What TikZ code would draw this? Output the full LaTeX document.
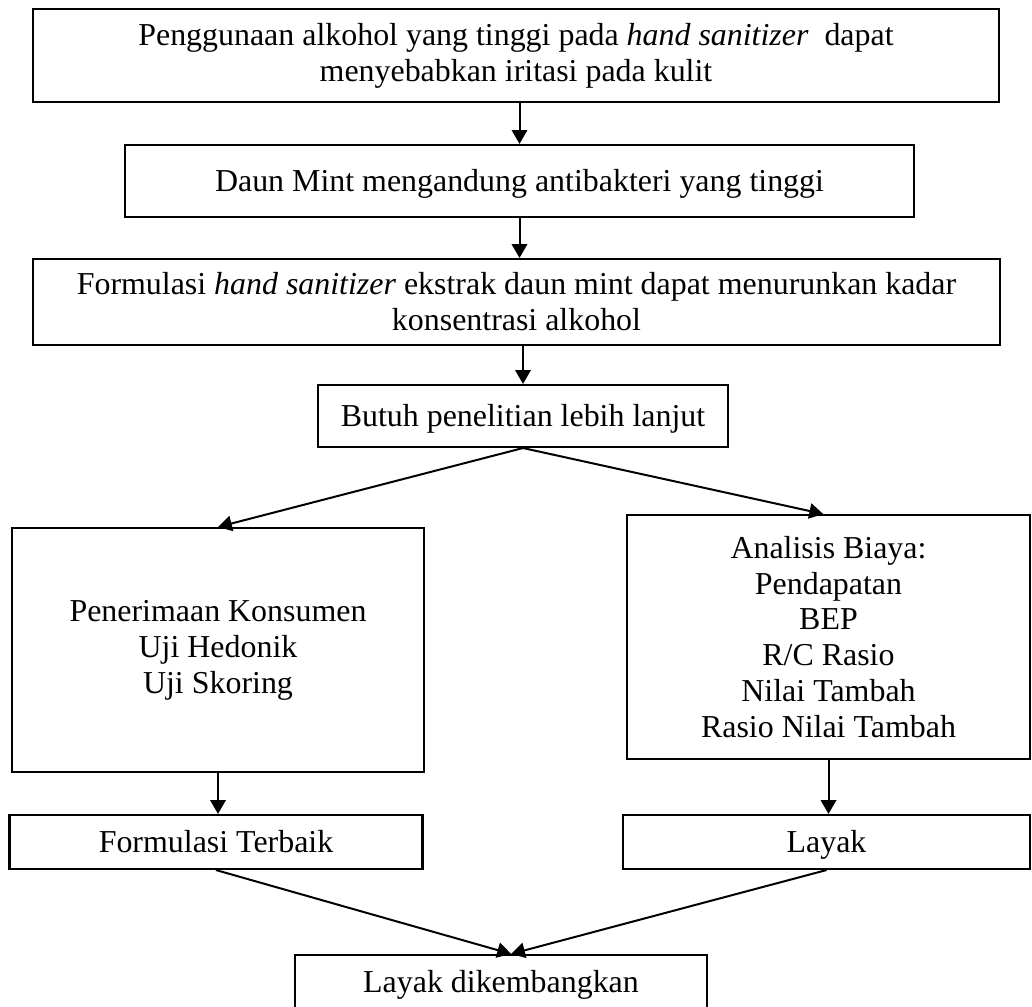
\documentclass[tikz,border=0pt]{standalone}
\usepackage{fontspec}
\setmainfont{Liberation Serif}
\usetikzlibrary{arrows.meta}
\tikzset{
  flow/.style={-{Triangle[length=5.2pt,width=5.8pt]},line width=0.75pt},
  kotak/.style={draw,line width=0.8pt,align=center,inner sep=2pt,
                font=\fontsize{12}{13.5}\selectfont},
  satu/.style={kotak,text height=9.4pt,text depth=1.6pt}
}
\begin{document}
\begin{tikzpicture}[x=0.376pt,y=-0.376pt]
  \useasboundingbox (0,0) rectangle (1032,1007);
  \clip (0,0) rectangle (1032,1007);

  % Main chain of reasoning.
  \node[kotak,minimum width=363.2pt,minimum height=35pt] (masalah) at (516,55.5)
      {Penggunaan alkohol yang tinggi pada \textit{hand sanitizer}\ \ dapat\\menyebabkan iritasi pada kulit};
  \node[satu,minimum width=296.7pt,minimum height=27.1pt] (mint) at (519.5,181)
      {Daun Mint mengandung antibakteri yang tinggi};
  \node[kotak,minimum width=363.6pt,minimum height=32.3pt] (formula) at (516.5,302)
      {Formulasi \textit{hand sanitizer} ekstrak daun mint dapat menurunkan kadar\\konsentrasi alkohol};
  \node[satu,minimum width=154.2pt,minimum height=23.3pt] (riset) at (523,416)
      {Butuh penelitian lebih lanjut};

  % Two branches.
  \node[kotak,minimum width=154.9pt,minimum height=91.7pt] (konsumen) at (218,650)
      {Penerimaan Konsumen\\Uji Hedonik\\Uji Skoring};
  \node[kotak,minimum width=151.5pt,minimum height=91.7pt] (biaya) at (828.5,637)
      {Analisis Biaya:\\Pendapatan\\BEP\\R/C Rasio\\Nilai Tambah\\Rasio Nilai Tambah};
  \node[satu,minimum width=155.3pt,minimum height=20.3pt] (terbaik) at (216,842)
      {Formulasi Terbaik};
  \node[satu,minimum width=153pt,minimum height=20.3pt] (layak) at (826.5,842)
      {Layak};
  \node[satu,minimum width=154.9pt,minimum height=20.3pt] (hasil) at (501,982)
      {Layak dikembangkan};

  % Connectors.
  \draw[flow] (mint.north |- masalah.south) -- (mint.north);
  \draw[flow] (mint.south) -- (mint.south |- formula.north);
  \draw[flow] (riset.north |- formula.south) -- (riset.north);
  \draw[flow] (riset.south) -- (konsumen.north);
  \draw[flow] (riset.south) -- ([xshift=-2pt]biaya.north);
  \draw[flow] (konsumen.south) -- (konsumen.south |- terbaik.north);
  \draw[flow] (biaya.south) -- (biaya.south |- layak.north);
  \draw[flow] (terbaik.south) -- ([xshift=3.8pt]hasil.north);
  \draw[flow] (layak.south) -- ([xshift=3.8pt]hasil.north);
\end{tikzpicture}
\end{document}
